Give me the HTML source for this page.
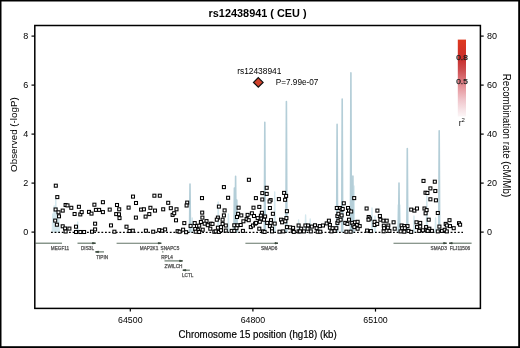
<!DOCTYPE html>
<html><head><meta charset="utf-8"><style>
html,body{margin:0;padding:0;background:#fff;}
svg{display:block;will-change:transform;}
text{font-family:"Liberation Sans",sans-serif;}
</style></head><body>
<svg width="520" height="348" viewBox="0 0 520 348">
<rect x="0" y="0" width="520" height="348" fill="#000"/>
<rect x="1.5" y="1.5" width="516.7" height="344.7" fill="#fff"/>
<text x="257.6" y="16.6" font-size="10.9" font-weight="bold" text-anchor="middle" fill="#000">rs12438941 ( CEU )</text>
<!-- recomb line -->
<path d="M52.3,232.4 L52.8,214 L53.3,232.4 M53.7,232.4 L54.2,206 L54.7,232.4 M55.3,232.4 L55.8,199 L56.3,232.4 M56.8,232.4 L57.3,208 L57.8,232.4 M58.3,232.4 L58.8,218 L59.3,232.4 M77.2,232.4 L77.7,222 L78.2,232.4 M191.7,232.4 L192.2,218 L192.7,232.4 M217.7,232.4 L218.2,202 L218.7,232.4 M227.9,232.4 L228.4,214 L228.9,232.4 M274.2,232.4 L274.7,192 L275.2,232.4 M298.1,232.4 L298.6,220 L299.1,232.4 M305.1,232.4 L305.6,215 L306.1,232.4 M309.7,232.4 L310.2,219 L310.7,232.4 M353.5,232.4 L354.0,186 L354.5,232.4 M371.5,232.4 L372.0,208 L372.5,232.4 M374.5,232.4 L375.0,216 L375.5,232.4 M397.7,232.4 L398.2,205 L398.7,232.4 M399.3,232.4 L399.8,205 L400.3,232.4 M413.5,232.4 L414.0,216 L414.5,232.4 M426.3,232.4 L426.8,196 L427.3,232.4 M435.1,232.4 L435.6,218 L436.1,232.4" fill="none" stroke="rgb(212,232,238)" stroke-width="1.4" stroke-linejoin="round"/>
<path d="M189.5,232.4 L190.0,184.1 L190.5,232.4 M233.9,232.4 L234.4,188 L234.9,232.4 M235.1,232.4 L235.6,176.3 L236.1,232.4 M236.3,232.4 L236.8,200 L237.3,232.4 M264.3,232.4 L264.8,122.2 L265.3,232.4 M285.9,232.4 L286.4,101.5 L286.9,232.4 M336.6,232.4 L337.1,124.4 L337.6,232.4 M341.7,232.4 L342.2,99.0 L342.7,232.4 M350.4,232.4 L350.9,72.9 L351.4,232.4 M352.4,232.4 L352.9,176 L353.4,232.4 M398.5,232.4 L399.0,183.1 L399.5,232.4 M406.8,232.4 L407.3,148.6 L407.8,232.4 M438.7,232.4 L439.2,130.7 L439.7,232.4" fill="none" stroke="rgb(180,206,216)" stroke-width="1.6" stroke-linejoin="round"/>
<!-- dotted zero line -->
<line x1="51" y1="232.4" x2="463" y2="232.4" stroke="#000" stroke-width="1.2" stroke-dasharray="1.8 1.8"/>
<!-- points -->
<g fill="#fff" stroke="#000" stroke-width="1.05">
<rect x="54.3" y="184.2" width="3" height="3"/>
<rect x="55.8" y="195.6" width="3" height="3"/>
<rect x="64.1" y="203.5" width="3" height="3"/>
<rect x="66.0" y="203.9" width="3" height="3"/>
<rect x="69.8" y="206.3" width="3" height="3"/>
<rect x="77.4" y="205.3" width="3" height="3"/>
<rect x="54.1" y="208.0" width="3" height="3"/>
<rect x="57.0" y="210.8" width="3" height="3"/>
<rect x="61.2" y="209.1" width="3" height="3"/>
<rect x="57.5" y="214.8" width="3" height="3"/>
<rect x="73.1" y="212.5" width="3" height="3"/>
<rect x="78.8" y="212.9" width="3" height="3"/>
<rect x="80.2" y="210.6" width="3" height="3"/>
<rect x="53.7" y="219.1" width="3" height="3"/>
<rect x="55.4" y="223.2" width="3" height="3"/>
<rect x="61.2" y="224.8" width="3" height="3"/>
<rect x="63.6" y="227.0" width="3" height="3"/>
<rect x="67.9" y="227.1" width="3" height="3"/>
<rect x="74.5" y="225.2" width="3" height="3"/>
<rect x="64.1" y="230.0" width="3" height="3"/>
<rect x="74.5" y="230.5" width="3" height="3"/>
<rect x="78.8" y="230.5" width="3" height="3"/>
<rect x="82.6" y="230.5" width="3" height="3"/>
<rect x="101.4" y="200.7" width="3" height="3"/>
<rect x="92.9" y="203.2" width="3" height="3"/>
<rect x="115.5" y="203.5" width="3" height="3"/>
<rect x="87.5" y="210.4" width="3" height="3"/>
<rect x="90.0" y="212.1" width="3" height="3"/>
<rect x="94.4" y="208.4" width="3" height="3"/>
<rect x="97.6" y="208.4" width="3" height="3"/>
<rect x="101.4" y="210.6" width="3" height="3"/>
<rect x="108.2" y="208.1" width="3" height="3"/>
<rect x="117.7" y="207.8" width="3" height="3"/>
<rect x="114.7" y="212.6" width="3" height="3"/>
<rect x="117.5" y="212.8" width="3" height="3"/>
<rect x="118.0" y="216.6" width="3" height="3"/>
<rect x="127.1" y="206.1" width="3" height="3"/>
<rect x="93.6" y="222.2" width="3" height="3"/>
<rect x="109.5" y="223.9" width="3" height="3"/>
<rect x="125.0" y="225.2" width="3" height="3"/>
<rect x="93.6" y="227.9" width="3" height="3"/>
<rect x="90.5" y="230.2" width="3" height="3"/>
<rect x="112.9" y="230.2" width="3" height="3"/>
<rect x="128.0" y="229.5" width="3" height="3"/>
<rect x="131.5" y="195.1" width="3" height="3"/>
<rect x="152.9" y="194.2" width="3" height="3"/>
<rect x="158.3" y="194.2" width="3" height="3"/>
<rect x="134.5" y="201.5" width="3" height="3"/>
<rect x="166.7" y="201.3" width="3" height="3"/>
<rect x="139.6" y="208.1" width="3" height="3"/>
<rect x="142.4" y="207.8" width="3" height="3"/>
<rect x="148.9" y="206.3" width="3" height="3"/>
<rect x="153.5" y="209.1" width="3" height="3"/>
<rect x="161.7" y="207.8" width="3" height="3"/>
<rect x="169.3" y="206.7" width="3" height="3"/>
<rect x="134.4" y="216.1" width="3" height="3"/>
<rect x="144.1" y="215.1" width="3" height="3"/>
<rect x="147.8" y="212.6" width="3" height="3"/>
<rect x="131.3" y="229.2" width="3" height="3"/>
<rect x="144.4" y="229.2" width="3" height="3"/>
<rect x="151.7" y="230.2" width="3" height="3"/>
<rect x="157.7" y="228.7" width="3" height="3"/>
<rect x="160.7" y="229.2" width="3" height="3"/>
<rect x="163.6" y="227.9" width="3" height="3"/>
<rect x="200.5" y="196.6" width="3" height="3"/>
<rect x="185.7" y="201.1" width="3" height="3"/>
<rect x="185.1" y="204.0" width="3" height="3"/>
<rect x="175.0" y="207.8" width="3" height="3"/>
<rect x="171.1" y="213.4" width="3" height="3"/>
<rect x="172.7" y="211.7" width="3" height="3"/>
<rect x="174.5" y="218.8" width="3" height="3"/>
<rect x="182.8" y="221.6" width="3" height="3"/>
<rect x="189.1" y="224.4" width="3" height="3"/>
<rect x="200.7" y="211.1" width="3" height="3"/>
<rect x="200.9" y="216.1" width="3" height="3"/>
<rect x="193.2" y="221.6" width="3" height="3"/>
<rect x="195.5" y="224.5" width="3" height="3"/>
<rect x="205.0" y="219.6" width="3" height="3"/>
<rect x="203.2" y="222.2" width="3" height="3"/>
<rect x="209.3" y="222.2" width="3" height="3"/>
<rect x="206.3" y="223.7" width="3" height="3"/>
<rect x="197.7" y="224.2" width="3" height="3"/>
<rect x="199.4" y="220.5" width="3" height="3"/>
<rect x="208.8" y="227.2" width="3" height="3"/>
<rect x="201.2" y="228.2" width="3" height="3"/>
<rect x="193.7" y="227.5" width="3" height="3"/>
<rect x="196.7" y="228.7" width="3" height="3"/>
<rect x="194.2" y="230.2" width="3" height="3"/>
<rect x="197.7" y="230.5" width="3" height="3"/>
<rect x="176.1" y="229.7" width="3" height="3"/>
<rect x="178.1" y="230.2" width="3" height="3"/>
<rect x="181.6" y="228.2" width="3" height="3"/>
<rect x="184.6" y="230.7" width="3" height="3"/>
<rect x="212.8" y="230.2" width="3" height="3"/>
<rect x="247.4" y="178.3" width="3" height="3"/>
<rect x="222.4" y="185.6" width="3" height="3"/>
<rect x="226.6" y="196.3" width="3" height="3"/>
<rect x="254.4" y="196.6" width="3" height="3"/>
<rect x="217.4" y="205.1" width="3" height="3"/>
<rect x="223.1" y="208.9" width="3" height="3"/>
<rect x="222.4" y="213.9" width="3" height="3"/>
<rect x="216.4" y="216.1" width="3" height="3"/>
<rect x="215.3" y="218.2" width="3" height="3"/>
<rect x="221.1" y="218.2" width="3" height="3"/>
<rect x="211.0" y="222.4" width="3" height="3"/>
<rect x="221.1" y="222.4" width="3" height="3"/>
<rect x="224.3" y="224.0" width="3" height="3"/>
<rect x="216.4" y="226.2" width="3" height="3"/>
<rect x="219.5" y="225.6" width="3" height="3"/>
<rect x="224.3" y="229.1" width="3" height="3"/>
<rect x="214.2" y="229.9" width="3" height="3"/>
<rect x="217.4" y="230.4" width="3" height="3"/>
<rect x="219.5" y="228.8" width="3" height="3"/>
<rect x="237.1" y="206.2" width="3" height="3"/>
<rect x="236.6" y="212.3" width="3" height="3"/>
<rect x="239.8" y="213.9" width="3" height="3"/>
<rect x="235.5" y="215.5" width="3" height="3"/>
<rect x="252.0" y="206.2" width="3" height="3"/>
<rect x="246.1" y="213.4" width="3" height="3"/>
<rect x="250.4" y="211.8" width="3" height="3"/>
<rect x="252.5" y="214.5" width="3" height="3"/>
<rect x="245.1" y="217.6" width="3" height="3"/>
<rect x="247.2" y="218.7" width="3" height="3"/>
<rect x="241.9" y="219.8" width="3" height="3"/>
<rect x="232.8" y="223.8" width="3" height="3"/>
<rect x="236.0" y="223.8" width="3" height="3"/>
<rect x="239.2" y="223.5" width="3" height="3"/>
<rect x="235.0" y="226.7" width="3" height="3"/>
<rect x="230.2" y="229.4" width="3" height="3"/>
<rect x="232.8" y="229.4" width="3" height="3"/>
<rect x="241.4" y="229.4" width="3" height="3"/>
<rect x="249.3" y="225.6" width="3" height="3"/>
<rect x="251.5" y="224.0" width="3" height="3"/>
<rect x="253.6" y="222.1" width="3" height="3"/>
<rect x="265.2" y="186.3" width="3" height="3"/>
<rect x="260.8" y="191.6" width="3" height="3"/>
<rect x="265.2" y="192.4" width="3" height="3"/>
<rect x="260.8" y="198.0" width="3" height="3"/>
<rect x="269.1" y="198.6" width="3" height="3"/>
<rect x="268.1" y="200.0" width="3" height="3"/>
<rect x="277.4" y="197.6" width="3" height="3"/>
<rect x="282.6" y="191.4" width="3" height="3"/>
<rect x="284.6" y="194.4" width="3" height="3"/>
<rect x="283.6" y="198.3" width="3" height="3"/>
<rect x="257.8" y="205.4" width="3" height="3"/>
<rect x="268.4" y="206.5" width="3" height="3"/>
<rect x="285.4" y="209.7" width="3" height="3"/>
<rect x="271.4" y="212.3" width="3" height="3"/>
<rect x="260.4" y="211.3" width="3" height="3"/>
<rect x="259.4" y="214.2" width="3" height="3"/>
<rect x="263.6" y="215.0" width="3" height="3"/>
<rect x="256.2" y="216.6" width="3" height="3"/>
<rect x="259.9" y="217.1" width="3" height="3"/>
<rect x="262.5" y="218.2" width="3" height="3"/>
<rect x="258.3" y="220.3" width="3" height="3"/>
<rect x="254.6" y="221.4" width="3" height="3"/>
<rect x="269.5" y="218.7" width="3" height="3"/>
<rect x="265.7" y="221.4" width="3" height="3"/>
<rect x="269.2" y="221.4" width="3" height="3"/>
<rect x="273.2" y="222.1" width="3" height="3"/>
<rect x="268.4" y="224.6" width="3" height="3"/>
<rect x="270.5" y="227.2" width="3" height="3"/>
<rect x="279.6" y="218.2" width="3" height="3"/>
<rect x="282.2" y="218.7" width="3" height="3"/>
<rect x="284.9" y="216.6" width="3" height="3"/>
<rect x="280.6" y="220.8" width="3" height="3"/>
<rect x="283.8" y="219.8" width="3" height="3"/>
<rect x="257.8" y="227.2" width="3" height="3"/>
<rect x="261.5" y="229.9" width="3" height="3"/>
<rect x="263.1" y="230.4" width="3" height="3"/>
<rect x="270.5" y="229.9" width="3" height="3"/>
<rect x="278.0" y="230.2" width="3" height="3"/>
<rect x="281.7" y="229.9" width="3" height="3"/>
<rect x="285.4" y="225.6" width="3" height="3"/>
<rect x="288.6" y="225.9" width="3" height="3"/>
<rect x="291.6" y="226.4" width="3" height="3"/>
<rect x="291.3" y="229.4" width="3" height="3"/>
<rect x="292.3" y="230.4" width="3" height="3"/>
<rect x="297.1" y="224.0" width="3" height="3"/>
<rect x="297.1" y="229.9" width="3" height="3"/>
<rect x="299.7" y="227.2" width="3" height="3"/>
<rect x="302.4" y="229.9" width="3" height="3"/>
<rect x="298.6" y="229.9" width="3" height="3"/>
<rect x="303.9" y="224.0" width="3" height="3"/>
<rect x="306.6" y="224.0" width="3" height="3"/>
<rect x="306.1" y="227.2" width="3" height="3"/>
<rect x="309.3" y="229.9" width="3" height="3"/>
<rect x="310.3" y="225.1" width="3" height="3"/>
<rect x="313.5" y="223.8" width="3" height="3"/>
<rect x="315.1" y="226.7" width="3" height="3"/>
<rect x="316.2" y="230.2" width="3" height="3"/>
<rect x="318.8" y="230.2" width="3" height="3"/>
<rect x="318.3" y="224.6" width="3" height="3"/>
<rect x="321.5" y="224.0" width="3" height="3"/>
<rect x="325.2" y="221.9" width="3" height="3"/>
<rect x="327.4" y="219.2" width="3" height="3"/>
<rect x="328.4" y="223.5" width="3" height="3"/>
<rect x="328.4" y="226.2" width="3" height="3"/>
<rect x="331.1" y="226.7" width="3" height="3"/>
<rect x="330.0" y="229.9" width="3" height="3"/>
<rect x="333.2" y="229.4" width="3" height="3"/>
<rect x="334.8" y="226.7" width="3" height="3"/>
<rect x="335.9" y="221.4" width="3" height="3"/>
<rect x="336.9" y="219.2" width="3" height="3"/>
<rect x="335.9" y="214.5" width="3" height="3"/>
<rect x="336.9" y="212.3" width="3" height="3"/>
<rect x="335.3" y="206.5" width="3" height="3"/>
<rect x="338.5" y="206.5" width="3" height="3"/>
<rect x="340.1" y="208.1" width="3" height="3"/>
<rect x="340.1" y="213.9" width="3" height="3"/>
<rect x="339.1" y="218.2" width="3" height="3"/>
<rect x="352.7" y="196.6" width="3" height="3"/>
<rect x="342.3" y="201.8" width="3" height="3"/>
<rect x="341.2" y="207.5" width="3" height="3"/>
<rect x="346.5" y="206.5" width="3" height="3"/>
<rect x="347.5" y="209.1" width="3" height="3"/>
<rect x="349.7" y="210.0" width="3" height="3"/>
<rect x="346.5" y="212.3" width="3" height="3"/>
<rect x="347.5" y="218.2" width="3" height="3"/>
<rect x="343.8" y="221.4" width="3" height="3"/>
<rect x="345.9" y="222.4" width="3" height="3"/>
<rect x="350.7" y="221.4" width="3" height="3"/>
<rect x="353.4" y="220.8" width="3" height="3"/>
<rect x="356.1" y="220.3" width="3" height="3"/>
<rect x="351.8" y="224.0" width="3" height="3"/>
<rect x="355.5" y="223.5" width="3" height="3"/>
<rect x="358.2" y="224.6" width="3" height="3"/>
<rect x="352.9" y="225.6" width="3" height="3"/>
<rect x="356.1" y="227.2" width="3" height="3"/>
<rect x="344.9" y="230.2" width="3" height="3"/>
<rect x="349.1" y="230.2" width="3" height="3"/>
<rect x="365.1" y="207.0" width="3" height="3"/>
<rect x="367.2" y="215.5" width="3" height="3"/>
<rect x="368.3" y="217.1" width="3" height="3"/>
<rect x="367.0" y="218.2" width="3" height="3"/>
<rect x="365.6" y="229.1" width="3" height="3"/>
<rect x="369.4" y="229.6" width="3" height="3"/>
<rect x="373.1" y="220.3" width="3" height="3"/>
<rect x="373.1" y="223.5" width="3" height="3"/>
<rect x="375.7" y="222.4" width="3" height="3"/>
<rect x="375.9" y="209.1" width="3" height="3"/>
<rect x="378.4" y="214.5" width="3" height="3"/>
<rect x="378.9" y="218.2" width="3" height="3"/>
<rect x="381.9" y="219.2" width="3" height="3"/>
<rect x="382.3" y="224.2" width="3" height="3"/>
<rect x="382.1" y="229.8" width="3" height="3"/>
<rect x="422.0" y="179.4" width="3" height="3"/>
<rect x="424.0" y="191.2" width="3" height="3"/>
<rect x="409.7" y="208.1" width="3" height="3"/>
<rect x="412.9" y="209.1" width="3" height="3"/>
<rect x="415.5" y="207.0" width="3" height="3"/>
<rect x="423.0" y="207.0" width="3" height="3"/>
<rect x="425.1" y="208.6" width="3" height="3"/>
<rect x="424.1" y="211.8" width="3" height="3"/>
<rect x="385.2" y="219.2" width="3" height="3"/>
<rect x="386.8" y="224.0" width="3" height="3"/>
<rect x="386.3" y="226.2" width="3" height="3"/>
<rect x="382.6" y="226.7" width="3" height="3"/>
<rect x="387.9" y="229.4" width="3" height="3"/>
<rect x="392.1" y="220.8" width="3" height="3"/>
<rect x="393.2" y="227.2" width="3" height="3"/>
<rect x="400.1" y="224.0" width="3" height="3"/>
<rect x="402.8" y="224.6" width="3" height="3"/>
<rect x="406.0" y="224.6" width="3" height="3"/>
<rect x="400.6" y="226.7" width="3" height="3"/>
<rect x="403.3" y="226.7" width="3" height="3"/>
<rect x="399.1" y="229.9" width="3" height="3"/>
<rect x="402.8" y="230.2" width="3" height="3"/>
<rect x="407.0" y="229.4" width="3" height="3"/>
<rect x="409.7" y="230.4" width="3" height="3"/>
<rect x="415.0" y="220.8" width="3" height="3"/>
<rect x="418.7" y="221.4" width="3" height="3"/>
<rect x="415.5" y="225.6" width="3" height="3"/>
<rect x="418.7" y="225.1" width="3" height="3"/>
<rect x="417.7" y="229.4" width="3" height="3"/>
<rect x="421.4" y="228.8" width="3" height="3"/>
<rect x="424.6" y="225.6" width="3" height="3"/>
<rect x="425.1" y="228.3" width="3" height="3"/>
<rect x="433.3" y="180.2" width="3" height="3"/>
<rect x="428.9" y="186.9" width="3" height="3"/>
<rect x="433.8" y="189.5" width="3" height="3"/>
<rect x="425.9" y="191.5" width="3" height="3"/>
<rect x="428.9" y="197.8" width="3" height="3"/>
<rect x="434.4" y="198.8" width="3" height="3"/>
<rect x="436.3" y="211.5" width="3" height="3"/>
<rect x="427.2" y="218.2" width="3" height="3"/>
<rect x="427.8" y="227.2" width="3" height="3"/>
<rect x="430.4" y="229.4" width="3" height="3"/>
<rect x="426.2" y="229.4" width="3" height="3"/>
<rect x="437.9" y="225.1" width="3" height="3"/>
<rect x="436.3" y="229.9" width="3" height="3"/>
<rect x="440.5" y="229.4" width="3" height="3"/>
<rect x="443.2" y="228.3" width="3" height="3"/>
<rect x="445.3" y="229.9" width="3" height="3"/>
<rect x="444.2" y="222.4" width="3" height="3"/>
<rect x="445.3" y="224.0" width="3" height="3"/>
<rect x="448.0" y="218.7" width="3" height="3"/>
<rect x="448.5" y="224.6" width="3" height="3"/>
<rect x="452.2" y="226.7" width="3" height="3"/>
<rect x="457.5" y="221.7" width="3" height="3"/>
<rect x="458.6" y="223.2" width="3" height="3"/>
</g>
<!-- diamond -->
<path d="M258.3,77.6 L263.1,82.4 L258.3,87.2 L253.5,82.4 Z" fill="rgb(208,66,44)" stroke="#111" stroke-width="1.2"/>
<text x="259.3" y="74.2" font-size="8.4" text-anchor="middle" fill="#000">rs12438941</text>
<text x="275.8" y="84.9" font-size="8.2" fill="#000">P=7.99e-07</text>
<!-- legend -->
<defs><linearGradient id="lg" x1="0" y1="0" x2="0" y2="1"><stop offset="0.000" stop-color="rgb(222, 56, 30)"/><stop offset="0.135" stop-color="rgb(212, 50, 38)"/><stop offset="0.265" stop-color="rgb(200, 48, 46)"/><stop offset="0.395" stop-color="rgb(205, 78, 80)"/><stop offset="0.525" stop-color="rgb(220, 118, 124)"/><stop offset="0.655" stop-color="rgb(232, 160, 166)"/><stop offset="0.785" stop-color="rgb(240, 198, 204)"/><stop offset="0.915" stop-color="rgb(247, 228, 231)"/><stop offset="1.000" stop-color="rgb(252, 246, 247)"/></linearGradient></defs><rect x="457.8" y="39.6" width="8.2" height="76.9" fill="url(#lg)"/>
<g font-size="7.6" fill="#111" stroke="#222" stroke-width="0.25">
<text x="456.2" y="60.1" textLength="11.6" lengthAdjust="spacingAndGlyphs">0.8</text>
<text x="456.2" y="84.1" textLength="11.6" lengthAdjust="spacingAndGlyphs">0.5</text>
</g>
<text x="458.8" y="125.9" font-size="8.6" fill="#111">r</text>
<text x="461.6" y="121.8" font-size="6" fill="#111">2</text>
<!-- genes -->
<g stroke="rgb(100,118,104)" stroke-width="1.15" fill="none">
<line x1="35.5" y1="243.2" x2="62.0" y2="243.2"/>
<line x1="77.5" y1="243.2" x2="95.5" y2="243.2"/>
<path d="M92.5,242.5 L95.5,243.2 L92.5,243.89999999999998 Z" fill="rgb(55,70,58)" stroke="rgb(55,70,58)" stroke-width="0.8"/>
<line x1="95.5" y1="251.9" x2="104.0" y2="251.9"/>
<path d="M98.5,251.20000000000002 L95.5,251.9 L98.5,252.6 Z" fill="rgb(55,70,58)" stroke="rgb(55,70,58)" stroke-width="0.8"/>
<line x1="116.6" y1="243.2" x2="161.3" y2="243.2"/>
<path d="M158.3,242.5 L161.3,243.2 L158.3,243.89999999999998 Z" fill="rgb(55,70,58)" stroke="rgb(55,70,58)" stroke-width="0.8"/>
<line x1="162.2" y1="251.9" x2="163.4" y2="251.9"/>
<line x1="164.5" y1="260.9" x2="182.6" y2="260.9"/>
<path d="M179.6,260.2 L182.6,260.9 L179.6,261.59999999999997 Z" fill="rgb(55,70,58)" stroke="rgb(55,70,58)" stroke-width="0.8"/>
<line x1="182.8" y1="270.2" x2="189.9" y2="270.2"/>
<path d="M185.8,269.5 L182.8,270.2 L185.8,270.9 Z" fill="rgb(55,70,58)" stroke="rgb(55,70,58)" stroke-width="0.8"/>
<line x1="245.4" y1="243.2" x2="278.0" y2="243.2"/>
<path d="M275.0,242.5 L278.0,243.2 L275.0,243.89999999999998 Z" fill="rgb(55,70,58)" stroke="rgb(55,70,58)" stroke-width="0.8"/>
<line x1="393.5" y1="243.2" x2="446.6" y2="243.2"/>
<path d="M443.6,242.5 L446.6,243.2 L443.6,243.89999999999998 Z" fill="rgb(55,70,58)" stroke="rgb(55,70,58)" stroke-width="0.8"/>
<line x1="449.2" y1="243.2" x2="471.6" y2="243.2"/>
<path d="M452.2,242.5 L449.2,243.2 L452.2,243.89999999999998 Z" fill="rgb(55,70,58)" stroke="rgb(55,70,58)" stroke-width="0.8"/>
</g>
<g font-size="4.7" fill="#2a2a2a" stroke="#666" stroke-width="0.25" text-anchor="middle">
<text x="60.0" y="250.0">MEGF11</text>
<text x="87.5" y="250.0">DIS3L</text>
<text x="102.2" y="259.0">TIPIN</text>
<text x="149.0" y="250.0">MAP2K1</text>
<text x="170.0" y="250.0">SNAPC5</text>
<text x="167.0" y="259.0">RPL4</text>
<text x="173.5" y="268.1">ZWILCH</text>
<text x="187.7" y="277.3">LCTL</text>
<text x="269.2" y="250.0">SMAD6</text>
<text x="438.7" y="250.0">SMAD3</text>
<text x="459.9" y="250.0">FLJ11506</text>
</g>
<!-- frame -->
<rect x="34.8" y="25.5" width="445.6" height="282.9" fill="none" stroke="#000" stroke-width="1.5"/>
<!-- left ticks -->
<g stroke="#000" stroke-width="1.2">
<line x1="31.5" y1="36.1" x2="34.8" y2="36.1"/>
<line x1="31.5" y1="85.1" x2="34.8" y2="85.1"/>
<line x1="31.5" y1="134.1" x2="34.8" y2="134.1"/>
<line x1="31.5" y1="183.1" x2="34.8" y2="183.1"/>
<line x1="31.5" y1="232.1" x2="34.8" y2="232.1"/>
<line x1="480.4" y1="36.1" x2="483.7" y2="36.1"/>
<line x1="480.4" y1="85.1" x2="483.7" y2="85.1"/>
<line x1="480.4" y1="134.1" x2="483.7" y2="134.1"/>
<line x1="480.4" y1="183.1" x2="483.7" y2="183.1"/>
<line x1="480.4" y1="232.1" x2="483.7" y2="232.1"/>
<line x1="130.3" y1="308.4" x2="130.3" y2="311.6"/>
<line x1="252.9" y1="308.4" x2="252.9" y2="311.6"/>
<line x1="375.5" y1="308.4" x2="375.5" y2="311.6"/>
</g>
<g font-size="9" fill="#000" text-anchor="end">
<text x="28.3" y="39.3">8</text>
<text x="28.3" y="88.3">6</text>
<text x="28.3" y="137.3">4</text>
<text x="28.3" y="186.3">2</text>
<text x="28.3" y="235.3">0</text>
</g>
<g font-size="9" fill="#000" text-anchor="start">
<text x="487" y="39.3">80</text>
<text x="487" y="88.3">60</text>
<text x="487" y="137.3">40</text>
<text x="487" y="186.3">20</text>
<text x="487" y="235.3">0</text>
</g>
<g font-size="8.8" fill="#000" text-anchor="middle">
<text x="130.3" y="323">64500</text>
<text x="252.9" y="323">64800</text>
<text x="375.5" y="323">65100</text>
</g>
<text x="257.6" y="338.2" font-size="10.8" text-anchor="middle" fill="#000" stroke="#000" stroke-width="0.2" transform="translate(257.6,0) scale(0.9,1) translate(-257.6,0)">Chromosome 15 position (hg18) (kb)</text>
<text x="0" y="0" font-size="9.8" text-anchor="middle" fill="#000" transform="translate(16.6,134.6) rotate(-90)">Observed (-logP)</text>
<text x="0" y="0" font-size="11" text-anchor="middle" fill="#000" transform="translate(502.6,135.5) rotate(90) scale(0.89,1)">Recombination rate (cM/Mb)</text>
</svg>
</body></html>
